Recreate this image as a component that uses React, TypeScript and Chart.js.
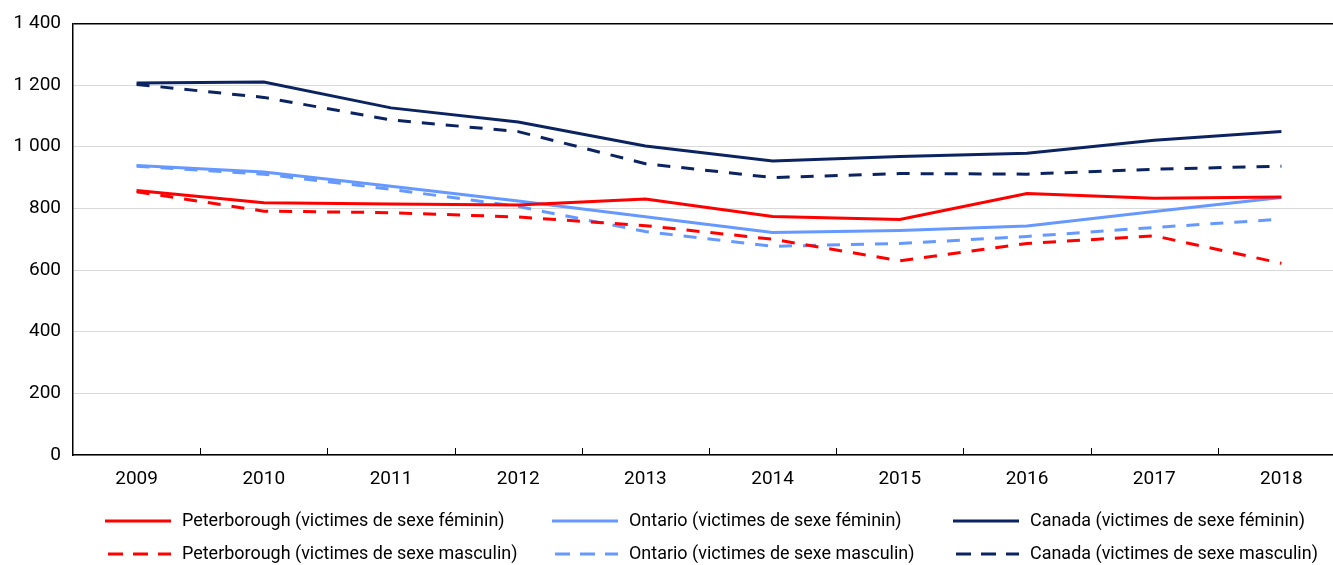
import React, { useEffect, useRef } from 'react';
import { Chart, registerables } from 'chart.js';

Chart.register(...registerables);

const years = ['2009', '2010', '2011', '2012', '2013', '2014', '2015', '2016', '2017', '2018'];

const peterboroughFemale = [858, 818, 814, 811, 830, 774, 764, 848, 833, 837];
const ontarioFemale = [939, 918, 872, 824, 773, 722, 728, 743, 790, 835];
const canadaFemale = [1207, 1210, 1126, 1080, 1002, 954, 968, 979, 1021, 1049];
const peterboroughMale = [854, 791, 786, 772, 744, 700, 630, 686, 711, 622];
const ontarioMale = [937, 911, 862, 806, 725, 677, 686, 709, 738, 765];
const canadaMale = [1202, 1160, 1087, 1049, 945, 900, 913, 911, 927, 937];

const seriesLabels = [
  'Peterborough (victimes de sexe féminin)',
  'Ontario (victimes de sexe féminin)',
  'Canada (victimes de sexe féminin)',
  'Peterborough (victimes de sexe masculin)',
  'Ontario (victimes de sexe masculin)',
  'Canada (victimes de sexe masculin)',
];

const yMin = 0;
const yMax = 1400;
const yStep = 200;

const RED = '#ff0000';
const LIGHT_BLUE = '#6699ff';
const NAVY = '#0b2461';
const FONT = 'Roboto, "Liberation Sans", sans-serif';

const formatThousands = (v: number) =>
  String(v).replace(/\B(?=(\d{3})+(?!\d))/g, ' ');

const tickMarksPlugin = {
  id: 'tickMarks',
  afterDraw(chart: any) {
    const xs = chart.scales.x;
    const bottom = chart.chartArea.bottom;
    const ctx = chart.ctx;
    const n = xs.ticks.length;
    ctx.save();
    ctx.strokeStyle = '#000';
    ctx.lineWidth = 1;
    for (let i = 1; i < n; i++) {
      const x = Math.round((xs.getPixelForValue(i - 1) + xs.getPixelForValue(i)) / 2) + 0.5;
      ctx.beginPath();
      ctx.moveTo(x, bottom - 7);
      ctx.lineTo(x, bottom);
      ctx.stroke();
    }
    ctx.restore();
  },
};

const legendPlugin = {
  id: 'gridLegend',
  afterDraw(chart: any) {
    const ctx = chart.ctx;
    const colX = [105, 552, 953];
    const rowY = [521, 554];
    chart.data.datasets.forEach((ds: any, i: number) => {
      const col = i % 3;
      const row = Math.floor(i / 3);
      const x = colX[col];
      const y = rowY[row];
      const dashed = ds.borderDash && ds.borderDash.length > 0;
      ctx.save();
      ctx.strokeStyle = ds.borderColor;
      ctx.lineWidth = 3;
      ctx.setLineDash(dashed ? [15, 10] : []);
      ctx.beginPath();
      ctx.moveTo(x + (dashed ? 3 : 0), y);
      ctx.lineTo(x + 66, y);
      ctx.stroke();
      ctx.setLineDash([]);
      ctx.fillStyle = '#000';
      ctx.font = `19px ${FONT}`;
      ctx.textBaseline = 'middle';
      ctx.textAlign = 'left';
      ctx.translate(x + 77, y);
      ctx.scale(0.945, 1);
      ctx.fillText(ds.label, 0, 0);
      ctx.restore();
    });
  },
};

export default function App() {
  const canvasRef = useRef<HTMLCanvasElement | null>(null);

  useEffect(() => {
    if (!canvasRef.current) return;
    const line = (label: string, data: number[], color: string, dashed: boolean) => ({
      label,
      data,
      borderColor: color,
      backgroundColor: color,
      borderWidth: 3,
      borderDash: dashed ? [13, 11] : [],
      pointRadius: 0,
      tension: 0,
      fill: false,
    });
    const chart = new Chart(canvasRef.current, {
      type: 'line',
      data: {
        labels: years,
        datasets: [
          line(seriesLabels[0], peterboroughFemale, RED, false),
          line(seriesLabels[1], ontarioFemale, LIGHT_BLUE, false),
          line(seriesLabels[2], canadaFemale, NAVY, false),
          line(seriesLabels[3], peterboroughMale, RED, true),
          line(seriesLabels[4], ontarioMale, LIGHT_BLUE, true),
          line(seriesLabels[5], canadaMale, NAVY, true),
        ],
      },
      options: {
        responsive: false,
        animation: false,
        layout: { padding: { top: 22, left: 0, right: 0, bottom: 0 } },
        plugins: {
          legend: { display: false },
          tooltip: { enabled: false },
        },
        scales: {
          x: {
            offset: true,
            grid: { display: false, drawTicks: false },
            border: { display: true, color: '#000', width: 1.5 },
            ticks: {
              color: '#000',
              font: { family: FONT, size: 19 },
              padding: 13,
              maxRotation: 0,
            },
            afterFit: (scale: any) => {
              scale.height = 110;
            },
          },
          y: {
            min: yMin,
            max: yMax,
            grid: {
              drawTicks: false,
              color: (c: any) => (c.tick && c.tick.value === yMax ? '#000' : '#d9d9d9'),
              lineWidth: (c: any) => (c.tick && c.tick.value === yMax ? 1.5 : 1),
            },
            border: { display: true, color: '#000', width: 1.5 },
            ticks: {
              stepSize: yStep,
              color: '#000',
              font: { family: FONT, size: 19 },
              padding: 12,
              callback: (v: any) => formatThousands(Number(v)),
            },
            afterFit: (scale: any) => {
              scale.width = 73;
            },
          },
        },
      },
      plugins: [tickMarksPlugin, legendPlugin],
    });
    return () => chart.destroy();
  }, []);

  return (
    <div
      style={{
        position: 'fixed',
        left: 0,
        top: 0,
        width: 1333,
        height: 565,
        overflow: 'hidden',
        background: '#fff',
      }}
    >
      <canvas ref={canvasRef} width={1345} height={565} style={{ display: 'block' }} />
    </div>
  );
}
